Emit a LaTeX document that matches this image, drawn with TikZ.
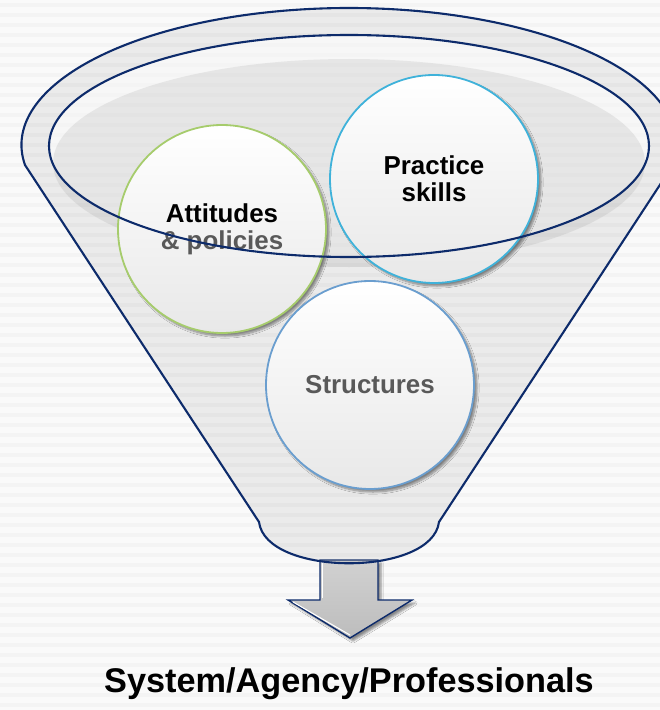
\documentclass[tikz,border=0pt]{standalone}
\usepackage{fontspec}
\setmainfont{Liberation Sans}
\usetikzlibrary{shadows.blur}

\definecolor{navyline}{HTML}{0D2B6B}
\definecolor{leafgreen}{HTML}{A6CC6C}
\definecolor{skyblue}{HTML}{3FB2DA}
\definecolor{steelblue}{HTML}{6A9ECF}
\definecolor{softgray}{HTML}{595959}

\newcommand\bubblefont{\fontsize{26}{27}\selectfont\bfseries}

\tikzset{
  funnelline/.style={draw=navyline, line width=2.1bp},
  bubble/.style={circle, minimum size=208bp, inner sep=0pt, line width=1.8bp,
    top color=white, bottom color=black!9, align=center, font=\bubblefont,
    blur shadow={shadow xshift=3bp, shadow yshift=-3bp, shadow opacity=45, shadow blur steps=8}},
  outflow/.style={draw=navyline, line width=1.4bp, line join=miter,
    top color=black!18, bottom color=black!26,
    blur shadow={shadow xshift=3bp, shadow yshift=-3bp, shadow opacity=45}}
}

\begin{document}
\begin{tikzpicture}[x=1bp, y=-1bp]
\clip (0,0) rectangle (660,710);

% striped backdrop
\fill[black!2] (0,0) rectangle (660,710);
\foreach \sy in {3,13,...,710}
  \fill[black!4.5] (0,\sy) rectangle (660,\sy+4);

% arrow out of the spout
\draw[outflow] (320,560) -- (378,560) -- (378,600) -- (412,600) -- (350,638)
  -- (288,600) -- (320,600) -- cycle;
\draw[white, line width=1bp] (322,598) -- (322,562);
\draw[white, line width=1bp] (293,602) -- (350,635);

% funnel body, mouth and surface
\fill[gray, fill opacity=.12] (25,165) arc[start angle=171.6, end angle=368.4, x radius=327.5, y radius=137]
  -- (439,522) .. controls (432,577) and (266,577) .. (259,522) -- cycle;
\fill[white, fill opacity=.6] (349,146) ellipse [x radius=300, y radius=111];
\fill[gray, fill opacity=.14] (349,163) ellipse [x radius=296, y radius=104];

% the three bubbles
\node[bubble, draw=leafgreen] (attitudes) at (222,229)
  {Attitudes\\\textcolor{softgray}{\& policies}};
\node[bubble, draw=skyblue] (practice) at (434,179) {Practice\\skills};
\node[bubble, draw=steelblue, text=softgray] (structures) at (370,385) {Structures};

% outlines on top
\draw[funnelline] (25,165) arc[start angle=171.6, end angle=368.4, x radius=327.5, y radius=137]
  -- (439,522) .. controls (432,577) and (266,577) .. (259,522) -- cycle;
\draw[funnelline] (349,146) ellipse [x radius=300, y radius=111];

\node[anchor=base, font=\fontsize{34.4}{36}\selectfont\bfseries] (outcome) at (349,692)
  {System/Agency/Professionals};
\end{tikzpicture}
\end{document}
